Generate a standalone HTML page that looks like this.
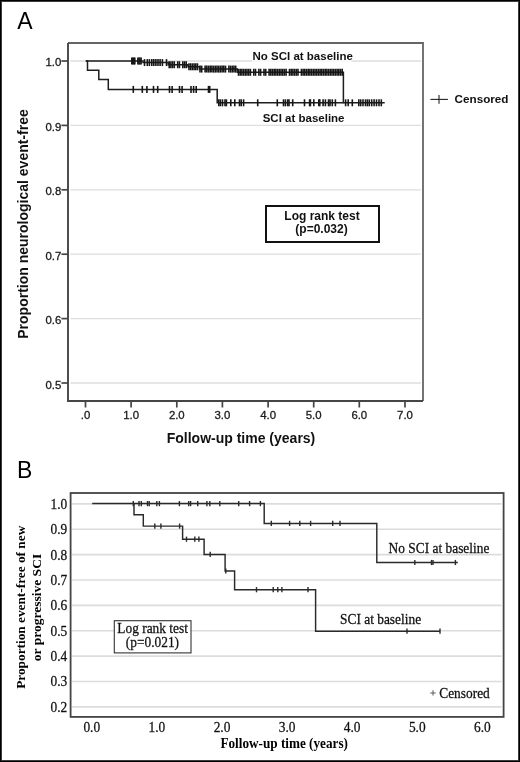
<!DOCTYPE html>
<html><head><meta charset="utf-8"><title>Kaplan-Meier curves</title>
<style>
html,body{margin:0;padding:0;background:#fff;}
body{width:520px;height:762px;overflow:hidden;}
svg{display:block;}
.sa{font-family:"Liberation Sans",Arial,sans-serif;font-size:11.4px;fill:#1a1a1a;stroke:#1a1a1a;stroke-width:0.3px;}
.sab{font-family:"Liberation Sans",Arial,sans-serif;font-size:11.5px;font-weight:bold;fill:#111;}
.sab2{font-family:"Liberation Sans",Arial,sans-serif;font-size:12px;font-weight:bold;fill:#111;}
.sat{font-family:"Liberation Sans",Arial,sans-serif;font-size:14px;font-weight:bold;fill:#111;}
.lab{font-family:"Liberation Sans",Arial,sans-serif;font-size:23px;fill:#000;}
.sb{font-family:"Liberation Serif","Times New Roman",serif;font-size:13.4px;fill:#111;stroke:#111;stroke-width:0.25px;}
.sbs{font-family:"Liberation Serif","Times New Roman",serif;font-size:10px;fill:#444;}
.sbtx{font-family:"Liberation Serif","Times New Roman",serif;font-size:13.2px;font-weight:bold;fill:#000;}
.sbt{font-family:"Liberation Serif","Times New Roman",serif;font-size:13.5px;font-weight:bold;fill:#000;}
</style></head>
<body><svg width="520" height="762" viewBox="0 0 520 762">
<rect x="0" y="0" width="520" height="762" fill="#fff"/>
<rect x="1.5" y="1.5" width="517" height="759" fill="none" stroke="#3c3c3c" stroke-width="1"/>
<rect x="0.5" y="0.5" width="519" height="761" fill="none" stroke="#000" stroke-width="1"/>
<line x1="70.5" y1="61.0" x2="421" y2="61.0" stroke="#dedede" stroke-width="1.3"/>
<line x1="70.5" y1="125.4" x2="421" y2="125.4" stroke="#dedede" stroke-width="1.3"/>
<line x1="70.5" y1="189.8" x2="421" y2="189.8" stroke="#dedede" stroke-width="1.3"/>
<line x1="70.5" y1="254.2" x2="421" y2="254.2" stroke="#dedede" stroke-width="1.3"/>
<line x1="70.5" y1="318.6" x2="421" y2="318.6" stroke="#dedede" stroke-width="1.3"/>
<line x1="70.5" y1="383.0" x2="421" y2="383.0" stroke="#dedede" stroke-width="1.3"/>
<path d="M68,43 H423 V401" fill="none" stroke="#656565" stroke-width="1.8"/>
<path d="M68,43 V401 H423" fill="none" stroke="#464646" stroke-width="1.9"/>
<line x1="61.4" y1="61.0" x2="68" y2="61.0" stroke="#444444" stroke-width="1.7"/>
<text x="61.3" y="66.0" class="sa" text-anchor="end">1.0</text>
<line x1="61.4" y1="125.4" x2="68" y2="125.4" stroke="#444444" stroke-width="1.7"/>
<text x="61.3" y="130.5" class="sa" text-anchor="end">0.9</text>
<line x1="61.4" y1="189.8" x2="68" y2="189.8" stroke="#444444" stroke-width="1.7"/>
<text x="61.3" y="195.0" class="sa" text-anchor="end">0.8</text>
<line x1="61.4" y1="254.2" x2="68" y2="254.2" stroke="#444444" stroke-width="1.7"/>
<text x="61.3" y="259.6" class="sa" text-anchor="end">0.7</text>
<line x1="61.4" y1="318.6" x2="68" y2="318.6" stroke="#444444" stroke-width="1.7"/>
<text x="61.3" y="324.1" class="sa" text-anchor="end">0.6</text>
<line x1="61.4" y1="383.0" x2="68" y2="383.0" stroke="#444444" stroke-width="1.7"/>
<text x="61.3" y="388.6" class="sa" text-anchor="end">0.5</text>
<line x1="85.5" y1="401" x2="85.5" y2="407.5" stroke="#444444" stroke-width="1.7"/>
<text x="85.5" y="418.7" class="sa" text-anchor="middle">.0</text>
<line x1="131.1" y1="401" x2="131.1" y2="407.5" stroke="#444444" stroke-width="1.7"/>
<text x="131.1" y="418.7" class="sa" text-anchor="middle">1.0</text>
<line x1="176.8" y1="401" x2="176.8" y2="407.5" stroke="#444444" stroke-width="1.7"/>
<text x="176.8" y="418.7" class="sa" text-anchor="middle">2.0</text>
<line x1="222.4" y1="401" x2="222.4" y2="407.5" stroke="#444444" stroke-width="1.7"/>
<text x="222.4" y="418.7" class="sa" text-anchor="middle">3.0</text>
<line x1="268.1" y1="401" x2="268.1" y2="407.5" stroke="#444444" stroke-width="1.7"/>
<text x="268.1" y="418.7" class="sa" text-anchor="middle">4.0</text>
<line x1="313.7" y1="401" x2="313.7" y2="407.5" stroke="#444444" stroke-width="1.7"/>
<text x="313.7" y="418.7" class="sa" text-anchor="middle">5.0</text>
<line x1="359.3" y1="401" x2="359.3" y2="407.5" stroke="#444444" stroke-width="1.7"/>
<text x="359.3" y="418.7" class="sa" text-anchor="middle">6.0</text>
<line x1="405.0" y1="401" x2="405.0" y2="407.5" stroke="#444444" stroke-width="1.7"/>
<text x="405.0" y="418.7" class="sa" text-anchor="middle">7.0</text>
<polyline fill="none" stroke="#1e1e1e" stroke-width="1.5" points="85.8,61.0 143.0,61.0 143.0,62.6 168.2,62.6 168.2,64.7 188,64.7 188,66.8 199.6,66.8 199.6,69.1 237.3,69.1 237.3,72.3 343.4,72.3 343.4,102.8 384.7,102.8"/>
<polyline fill="none" stroke="#1e1e1e" stroke-width="1.5" points="85.8,61.0 87.5,61.0 87.5,70.2 98.8,70.2 98.8,79.5 108.3,79.5 108.3,89.4 217.2,89.4 217.2,102.8 343.4,102.8"/>
<line x1="133.3" y1="85.9" x2="133.3" y2="92.9" stroke="#161616" stroke-width="1.6"/>
<line x1="142.3" y1="85.9" x2="142.3" y2="92.9" stroke="#161616" stroke-width="1.6"/>
<line x1="146.9" y1="85.9" x2="146.9" y2="92.9" stroke="#161616" stroke-width="1.6"/>
<line x1="153.5" y1="85.9" x2="153.5" y2="92.9" stroke="#161616" stroke-width="1.6"/>
<line x1="157.7" y1="85.9" x2="157.7" y2="92.9" stroke="#161616" stroke-width="1.6"/>
<line x1="169.5" y1="85.9" x2="169.5" y2="92.9" stroke="#161616" stroke-width="1.6"/>
<line x1="172.1" y1="85.9" x2="172.1" y2="92.9" stroke="#161616" stroke-width="1.6"/>
<line x1="179.5" y1="85.9" x2="179.5" y2="92.9" stroke="#161616" stroke-width="1.6"/>
<line x1="182.1" y1="85.9" x2="182.1" y2="92.9" stroke="#161616" stroke-width="1.6"/>
<line x1="191.0" y1="85.9" x2="191.0" y2="92.9" stroke="#161616" stroke-width="1.6"/>
<line x1="193.6" y1="85.9" x2="193.6" y2="92.9" stroke="#161616" stroke-width="1.6"/>
<line x1="196.2" y1="85.9" x2="196.2" y2="92.9" stroke="#161616" stroke-width="1.6"/>
<line x1="208.5" y1="85.9" x2="208.5" y2="92.9" stroke="#161616" stroke-width="1.6"/>
<line x1="209.7" y1="85.9" x2="209.7" y2="92.9" stroke="#161616" stroke-width="1.6"/>
<line x1="218.8" y1="99.3" x2="218.8" y2="106.3" stroke="#161616" stroke-width="1.6"/>
<line x1="220.4" y1="99.3" x2="220.4" y2="106.3" stroke="#161616" stroke-width="1.6"/>
<line x1="222.5" y1="99.3" x2="222.5" y2="106.3" stroke="#161616" stroke-width="1.6"/>
<line x1="225.0" y1="99.3" x2="225.0" y2="106.3" stroke="#161616" stroke-width="1.6"/>
<line x1="226.4" y1="99.3" x2="226.4" y2="106.3" stroke="#161616" stroke-width="1.6"/>
<line x1="230.8" y1="99.3" x2="230.8" y2="106.3" stroke="#161616" stroke-width="1.6"/>
<line x1="234.8" y1="99.3" x2="234.8" y2="106.3" stroke="#161616" stroke-width="1.6"/>
<line x1="239.5" y1="99.3" x2="239.5" y2="106.3" stroke="#161616" stroke-width="1.6"/>
<line x1="241.2" y1="99.3" x2="241.2" y2="106.3" stroke="#161616" stroke-width="1.6"/>
<line x1="243.6" y1="99.3" x2="243.6" y2="106.3" stroke="#161616" stroke-width="1.6"/>
<line x1="257.7" y1="99.3" x2="257.7" y2="106.3" stroke="#161616" stroke-width="1.6"/>
<line x1="277.3" y1="99.3" x2="277.3" y2="106.3" stroke="#161616" stroke-width="1.6"/>
<line x1="283.5" y1="99.3" x2="283.5" y2="106.3" stroke="#161616" stroke-width="1.6"/>
<line x1="285.4" y1="99.3" x2="285.4" y2="106.3" stroke="#161616" stroke-width="1.6"/>
<line x1="287.7" y1="99.3" x2="287.7" y2="106.3" stroke="#161616" stroke-width="1.6"/>
<line x1="289.0" y1="99.3" x2="289.0" y2="106.3" stroke="#161616" stroke-width="1.6"/>
<line x1="292.7" y1="99.3" x2="292.7" y2="106.3" stroke="#161616" stroke-width="1.6"/>
<line x1="304.5" y1="99.3" x2="304.5" y2="106.3" stroke="#161616" stroke-width="1.6"/>
<line x1="309.6" y1="99.3" x2="309.6" y2="106.3" stroke="#161616" stroke-width="1.6"/>
<line x1="310.4" y1="99.3" x2="310.4" y2="106.3" stroke="#161616" stroke-width="1.6"/>
<line x1="313.8" y1="99.3" x2="313.8" y2="106.3" stroke="#161616" stroke-width="1.6"/>
<line x1="318.8" y1="99.3" x2="318.8" y2="106.3" stroke="#161616" stroke-width="1.6"/>
<line x1="319.8" y1="99.3" x2="319.8" y2="106.3" stroke="#161616" stroke-width="1.6"/>
<line x1="323.1" y1="99.3" x2="323.1" y2="106.3" stroke="#161616" stroke-width="1.6"/>
<line x1="325.4" y1="99.3" x2="325.4" y2="106.3" stroke="#161616" stroke-width="1.6"/>
<line x1="328.5" y1="99.3" x2="328.5" y2="106.3" stroke="#161616" stroke-width="1.6"/>
<line x1="330.0" y1="99.3" x2="330.0" y2="106.3" stroke="#161616" stroke-width="1.6"/>
<line x1="332.3" y1="99.3" x2="332.3" y2="106.3" stroke="#161616" stroke-width="1.6"/>
<line x1="335.4" y1="99.3" x2="335.4" y2="106.3" stroke="#161616" stroke-width="1.6"/>
<line x1="345.6" y1="99.3" x2="345.6" y2="106.3" stroke="#161616" stroke-width="1.6"/>
<line x1="348.2" y1="99.3" x2="348.2" y2="106.3" stroke="#161616" stroke-width="1.6"/>
<line x1="352.3" y1="99.3" x2="352.3" y2="106.3" stroke="#161616" stroke-width="1.6"/>
<line x1="358.8" y1="99.3" x2="358.8" y2="106.3" stroke="#161616" stroke-width="1.6"/>
<line x1="360.7" y1="99.3" x2="360.7" y2="106.3" stroke="#161616" stroke-width="1.6"/>
<line x1="363.0" y1="99.3" x2="363.0" y2="106.3" stroke="#161616" stroke-width="1.6"/>
<line x1="365.5" y1="99.3" x2="365.5" y2="106.3" stroke="#161616" stroke-width="1.6"/>
<line x1="367.4" y1="99.3" x2="367.4" y2="106.3" stroke="#161616" stroke-width="1.6"/>
<line x1="369.3" y1="99.3" x2="369.3" y2="106.3" stroke="#161616" stroke-width="1.6"/>
<line x1="371.7" y1="99.3" x2="371.7" y2="106.3" stroke="#161616" stroke-width="1.6"/>
<line x1="374.1" y1="99.3" x2="374.1" y2="106.3" stroke="#161616" stroke-width="1.6"/>
<line x1="376.5" y1="99.3" x2="376.5" y2="106.3" stroke="#161616" stroke-width="1.6"/>
<line x1="379.0" y1="99.3" x2="379.0" y2="106.3" stroke="#161616" stroke-width="1.6"/>
<line x1="381.3" y1="99.3" x2="381.3" y2="106.3" stroke="#161616" stroke-width="1.6"/>
<line x1="131.8" y1="57.5" x2="131.8" y2="64.5" stroke="#161616" stroke-width="1.6"/>
<line x1="132.8" y1="57.5" x2="132.8" y2="64.5" stroke="#161616" stroke-width="1.6"/>
<line x1="133.8" y1="57.5" x2="133.8" y2="64.5" stroke="#161616" stroke-width="1.6"/>
<line x1="134.8" y1="57.5" x2="134.8" y2="64.5" stroke="#161616" stroke-width="1.6"/>
<line x1="137.9" y1="57.5" x2="137.9" y2="64.5" stroke="#161616" stroke-width="1.6"/>
<line x1="139.0" y1="57.5" x2="139.0" y2="64.5" stroke="#161616" stroke-width="1.6"/>
<line x1="140.0" y1="57.5" x2="140.0" y2="64.5" stroke="#161616" stroke-width="1.6"/>
<line x1="141.1" y1="57.5" x2="141.1" y2="64.5" stroke="#161616" stroke-width="1.6"/>
<line x1="144.5" y1="59.1" x2="144.5" y2="66.1" stroke="#161616" stroke-width="1.6"/>
<line x1="147.3" y1="59.1" x2="147.3" y2="66.1" stroke="#161616" stroke-width="1.6"/>
<line x1="149.4" y1="59.1" x2="149.4" y2="66.1" stroke="#161616" stroke-width="1.6"/>
<line x1="151.8" y1="59.1" x2="151.8" y2="66.1" stroke="#161616" stroke-width="1.6"/>
<line x1="153.8" y1="59.1" x2="153.8" y2="66.1" stroke="#161616" stroke-width="1.6"/>
<line x1="155.9" y1="59.1" x2="155.9" y2="66.1" stroke="#161616" stroke-width="1.6"/>
<line x1="158.0" y1="59.1" x2="158.0" y2="66.1" stroke="#161616" stroke-width="1.6"/>
<line x1="160.1" y1="59.1" x2="160.1" y2="66.1" stroke="#161616" stroke-width="1.6"/>
<line x1="162.4" y1="59.1" x2="162.4" y2="66.1" stroke="#161616" stroke-width="1.6"/>
<line x1="166.5" y1="59.1" x2="166.5" y2="66.1" stroke="#161616" stroke-width="1.6"/>
<line x1="169.2" y1="61.2" x2="169.2" y2="68.2" stroke="#161616" stroke-width="1.6"/>
<line x1="170.9" y1="61.2" x2="170.9" y2="68.2" stroke="#161616" stroke-width="1.6"/>
<line x1="172.6" y1="61.2" x2="172.6" y2="68.2" stroke="#161616" stroke-width="1.6"/>
<line x1="174.3" y1="61.2" x2="174.3" y2="68.2" stroke="#161616" stroke-width="1.6"/>
<line x1="177.7" y1="61.2" x2="177.7" y2="68.2" stroke="#161616" stroke-width="1.6"/>
<line x1="179.4" y1="61.2" x2="179.4" y2="68.2" stroke="#161616" stroke-width="1.6"/>
<line x1="182.8" y1="61.2" x2="182.8" y2="68.2" stroke="#161616" stroke-width="1.6"/>
<line x1="184.5" y1="61.2" x2="184.5" y2="68.2" stroke="#161616" stroke-width="1.6"/>
<line x1="186.2" y1="61.2" x2="186.2" y2="68.2" stroke="#161616" stroke-width="1.6"/>
<line x1="189.0" y1="63.3" x2="189.0" y2="70.3" stroke="#161616" stroke-width="1.6"/>
<line x1="190.7" y1="63.3" x2="190.7" y2="70.3" stroke="#161616" stroke-width="1.6"/>
<line x1="192.4" y1="63.3" x2="192.4" y2="70.3" stroke="#161616" stroke-width="1.6"/>
<line x1="194.1" y1="63.3" x2="194.1" y2="70.3" stroke="#161616" stroke-width="1.6"/>
<line x1="195.8" y1="63.3" x2="195.8" y2="70.3" stroke="#161616" stroke-width="1.6"/>
<line x1="197.5" y1="63.3" x2="197.5" y2="70.3" stroke="#161616" stroke-width="1.6"/>
<line x1="200.0" y1="65.6" x2="200.0" y2="72.6" stroke="#161616" stroke-width="1.6"/>
<line x1="201.7" y1="65.6" x2="201.7" y2="72.6" stroke="#161616" stroke-width="1.6"/>
<line x1="205.1" y1="65.6" x2="205.1" y2="72.6" stroke="#161616" stroke-width="1.6"/>
<line x1="206.8" y1="65.6" x2="206.8" y2="72.6" stroke="#161616" stroke-width="1.6"/>
<line x1="208.5" y1="65.6" x2="208.5" y2="72.6" stroke="#161616" stroke-width="1.6"/>
<line x1="210.2" y1="65.6" x2="210.2" y2="72.6" stroke="#161616" stroke-width="1.6"/>
<line x1="211.9" y1="65.6" x2="211.9" y2="72.6" stroke="#161616" stroke-width="1.6"/>
<line x1="213.6" y1="65.6" x2="213.6" y2="72.6" stroke="#161616" stroke-width="1.6"/>
<line x1="215.3" y1="65.6" x2="215.3" y2="72.6" stroke="#161616" stroke-width="1.6"/>
<line x1="217.0" y1="65.6" x2="217.0" y2="72.6" stroke="#161616" stroke-width="1.6"/>
<line x1="218.7" y1="65.6" x2="218.7" y2="72.6" stroke="#161616" stroke-width="1.6"/>
<line x1="220.4" y1="65.6" x2="220.4" y2="72.6" stroke="#161616" stroke-width="1.6"/>
<line x1="222.1" y1="65.6" x2="222.1" y2="72.6" stroke="#161616" stroke-width="1.6"/>
<line x1="223.8" y1="65.6" x2="223.8" y2="72.6" stroke="#161616" stroke-width="1.6"/>
<line x1="225.5" y1="65.6" x2="225.5" y2="72.6" stroke="#161616" stroke-width="1.6"/>
<line x1="228.9" y1="65.6" x2="228.9" y2="72.6" stroke="#161616" stroke-width="1.6"/>
<line x1="230.6" y1="65.6" x2="230.6" y2="72.6" stroke="#161616" stroke-width="1.6"/>
<line x1="232.3" y1="65.6" x2="232.3" y2="72.6" stroke="#161616" stroke-width="1.6"/>
<line x1="234.0" y1="65.6" x2="234.0" y2="72.6" stroke="#161616" stroke-width="1.6"/>
<line x1="235.7" y1="65.6" x2="235.7" y2="72.6" stroke="#161616" stroke-width="1.6"/>
<line x1="238.5" y1="68.8" x2="238.5" y2="75.8" stroke="#161616" stroke-width="1.6"/>
<line x1="240.2" y1="68.8" x2="240.2" y2="75.8" stroke="#161616" stroke-width="1.6"/>
<line x1="241.9" y1="68.8" x2="241.9" y2="75.8" stroke="#161616" stroke-width="1.6"/>
<line x1="243.6" y1="68.8" x2="243.6" y2="75.8" stroke="#161616" stroke-width="1.6"/>
<line x1="245.3" y1="68.8" x2="245.3" y2="75.8" stroke="#161616" stroke-width="1.6"/>
<line x1="247.0" y1="68.8" x2="247.0" y2="75.8" stroke="#161616" stroke-width="1.6"/>
<line x1="248.7" y1="68.8" x2="248.7" y2="75.8" stroke="#161616" stroke-width="1.6"/>
<line x1="250.4" y1="68.8" x2="250.4" y2="75.8" stroke="#161616" stroke-width="1.6"/>
<line x1="253.8" y1="68.8" x2="253.8" y2="75.8" stroke="#161616" stroke-width="1.6"/>
<line x1="255.5" y1="68.8" x2="255.5" y2="75.8" stroke="#161616" stroke-width="1.6"/>
<line x1="258.9" y1="68.8" x2="258.9" y2="75.8" stroke="#161616" stroke-width="1.6"/>
<line x1="260.6" y1="68.8" x2="260.6" y2="75.8" stroke="#161616" stroke-width="1.6"/>
<line x1="264.0" y1="68.8" x2="264.0" y2="75.8" stroke="#161616" stroke-width="1.6"/>
<line x1="265.7" y1="68.8" x2="265.7" y2="75.8" stroke="#161616" stroke-width="1.6"/>
<line x1="269.1" y1="68.8" x2="269.1" y2="75.8" stroke="#161616" stroke-width="1.6"/>
<line x1="270.8" y1="68.8" x2="270.8" y2="75.8" stroke="#161616" stroke-width="1.6"/>
<line x1="272.5" y1="68.8" x2="272.5" y2="75.8" stroke="#161616" stroke-width="1.6"/>
<line x1="274.2" y1="68.8" x2="274.2" y2="75.8" stroke="#161616" stroke-width="1.6"/>
<line x1="275.9" y1="68.8" x2="275.9" y2="75.8" stroke="#161616" stroke-width="1.6"/>
<line x1="277.6" y1="68.8" x2="277.6" y2="75.8" stroke="#161616" stroke-width="1.6"/>
<line x1="279.3" y1="68.8" x2="279.3" y2="75.8" stroke="#161616" stroke-width="1.6"/>
<line x1="281.0" y1="68.8" x2="281.0" y2="75.8" stroke="#161616" stroke-width="1.6"/>
<line x1="282.7" y1="68.8" x2="282.7" y2="75.8" stroke="#161616" stroke-width="1.6"/>
<line x1="284.4" y1="68.8" x2="284.4" y2="75.8" stroke="#161616" stroke-width="1.6"/>
<line x1="286.1" y1="68.8" x2="286.1" y2="75.8" stroke="#161616" stroke-width="1.6"/>
<line x1="289.5" y1="68.8" x2="289.5" y2="75.8" stroke="#161616" stroke-width="1.6"/>
<line x1="291.2" y1="68.8" x2="291.2" y2="75.8" stroke="#161616" stroke-width="1.6"/>
<line x1="292.9" y1="68.8" x2="292.9" y2="75.8" stroke="#161616" stroke-width="1.6"/>
<line x1="294.6" y1="68.8" x2="294.6" y2="75.8" stroke="#161616" stroke-width="1.6"/>
<line x1="296.3" y1="68.8" x2="296.3" y2="75.8" stroke="#161616" stroke-width="1.6"/>
<line x1="298.0" y1="68.8" x2="298.0" y2="75.8" stroke="#161616" stroke-width="1.6"/>
<line x1="301.4" y1="68.8" x2="301.4" y2="75.8" stroke="#161616" stroke-width="1.6"/>
<line x1="303.1" y1="68.8" x2="303.1" y2="75.8" stroke="#161616" stroke-width="1.6"/>
<line x1="304.8" y1="68.8" x2="304.8" y2="75.8" stroke="#161616" stroke-width="1.6"/>
<line x1="306.5" y1="68.8" x2="306.5" y2="75.8" stroke="#161616" stroke-width="1.6"/>
<line x1="308.2" y1="68.8" x2="308.2" y2="75.8" stroke="#161616" stroke-width="1.6"/>
<line x1="309.9" y1="68.8" x2="309.9" y2="75.8" stroke="#161616" stroke-width="1.6"/>
<line x1="311.6" y1="68.8" x2="311.6" y2="75.8" stroke="#161616" stroke-width="1.6"/>
<line x1="313.3" y1="68.8" x2="313.3" y2="75.8" stroke="#161616" stroke-width="1.6"/>
<line x1="315.0" y1="68.8" x2="315.0" y2="75.8" stroke="#161616" stroke-width="1.6"/>
<line x1="316.7" y1="68.8" x2="316.7" y2="75.8" stroke="#161616" stroke-width="1.6"/>
<line x1="318.4" y1="68.8" x2="318.4" y2="75.8" stroke="#161616" stroke-width="1.6"/>
<line x1="320.1" y1="68.8" x2="320.1" y2="75.8" stroke="#161616" stroke-width="1.6"/>
<line x1="321.8" y1="68.8" x2="321.8" y2="75.8" stroke="#161616" stroke-width="1.6"/>
<line x1="323.5" y1="68.8" x2="323.5" y2="75.8" stroke="#161616" stroke-width="1.6"/>
<line x1="325.2" y1="68.8" x2="325.2" y2="75.8" stroke="#161616" stroke-width="1.6"/>
<line x1="326.9" y1="68.8" x2="326.9" y2="75.8" stroke="#161616" stroke-width="1.6"/>
<line x1="328.6" y1="68.8" x2="328.6" y2="75.8" stroke="#161616" stroke-width="1.6"/>
<line x1="330.3" y1="68.8" x2="330.3" y2="75.8" stroke="#161616" stroke-width="1.6"/>
<line x1="332.0" y1="68.8" x2="332.0" y2="75.8" stroke="#161616" stroke-width="1.6"/>
<line x1="333.7" y1="68.8" x2="333.7" y2="75.8" stroke="#161616" stroke-width="1.6"/>
<line x1="335.4" y1="68.8" x2="335.4" y2="75.8" stroke="#161616" stroke-width="1.6"/>
<line x1="337.1" y1="68.8" x2="337.1" y2="75.8" stroke="#161616" stroke-width="1.6"/>
<line x1="338.8" y1="68.8" x2="338.8" y2="75.8" stroke="#161616" stroke-width="1.6"/>
<line x1="340.5" y1="68.8" x2="340.5" y2="75.8" stroke="#161616" stroke-width="1.6"/>
<line x1="342.2" y1="68.8" x2="342.2" y2="75.8" stroke="#161616" stroke-width="1.6"/>
<rect x="252" y="59.6" width="99.5" height="2.8" fill="#fff" fill-opacity="0.7"/>
<text x="252.5" y="59.5" class="sab">No SCI at baseline</text>
<text x="262.7" y="121.9" class="sab">SCI at baseline</text>
<rect x="266" y="206" width="113" height="36" fill="#fff" stroke="#111" stroke-width="2"/>
<text x="322" y="219.9" class="sab2" text-anchor="middle">Log rank test</text>
<text x="321.5" y="233.2" class="sab2" text-anchor="middle">(p=0.032)</text>
<line x1="430.4" y1="99.4" x2="447.9" y2="99.4" stroke="#222" stroke-width="1.1"/>
<line x1="439" y1="95" x2="439" y2="103.8" stroke="#222" stroke-width="1.1"/>
<text x="454.6" y="103" class="sab2" style="font-size:11.7px">Censored</text>
<text x="241" y="443" class="sat" text-anchor="middle">Follow-up time (years)</text>
<text transform="translate(27.8,224) rotate(-90)" x="0" y="0" class="sat" text-anchor="middle">Proportion neurological event-free</text>
<text x="17.3" y="28.6" class="lab">A</text>
<text x="17" y="477.9" class="lab">B</text>
<line x1="72.1" y1="503.85" x2="501.6" y2="503.85" stroke="#dcdcdc" stroke-width="1.7"/>
<text transform="translate(67.20,508.75) scale(1,1.12)" class="sb" text-anchor="end">1.0</text>
<line x1="72.1" y1="529.23" x2="501.6" y2="529.23" stroke="#dcdcdc" stroke-width="1.7"/>
<text transform="translate(67.20,534.13) scale(1,1.12)" class="sb" text-anchor="end">0.9</text>
<line x1="72.1" y1="554.61" x2="501.6" y2="554.61" stroke="#dcdcdc" stroke-width="1.7"/>
<text transform="translate(67.20,559.51) scale(1,1.12)" class="sb" text-anchor="end">0.8</text>
<line x1="72.1" y1="579.99" x2="501.6" y2="579.99" stroke="#dcdcdc" stroke-width="1.7"/>
<text transform="translate(67.20,584.89) scale(1,1.12)" class="sb" text-anchor="end">0.7</text>
<line x1="72.1" y1="605.37" x2="501.6" y2="605.37" stroke="#dcdcdc" stroke-width="1.7"/>
<text transform="translate(67.20,610.27) scale(1,1.12)" class="sb" text-anchor="end">0.6</text>
<line x1="72.1" y1="630.75" x2="501.6" y2="630.75" stroke="#dcdcdc" stroke-width="1.7"/>
<text transform="translate(67.20,635.65) scale(1,1.12)" class="sb" text-anchor="end">0.5</text>
<line x1="72.1" y1="656.13" x2="501.6" y2="656.13" stroke="#dcdcdc" stroke-width="1.7"/>
<text transform="translate(67.20,661.03) scale(1,1.12)" class="sb" text-anchor="end">0.4</text>
<line x1="72.1" y1="681.51" x2="501.6" y2="681.51" stroke="#dcdcdc" stroke-width="1.7"/>
<text transform="translate(67.20,686.41) scale(1,1.12)" class="sb" text-anchor="end">0.3</text>
<line x1="72.1" y1="706.89" x2="501.6" y2="706.89" stroke="#dcdcdc" stroke-width="1.7"/>
<text transform="translate(67.20,711.79) scale(1,1.12)" class="sb" text-anchor="end">0.2</text>
<rect x="70.6" y="493" width="433.0" height="223.89999999999998" fill="none" stroke="#444" stroke-width="1.8"/>
<text transform="translate(91.80,732.10) scale(1,1.12)" class="sb" text-anchor="middle">0.0</text>
<text transform="translate(156.90,732.10) scale(1,1.12)" class="sb" text-anchor="middle">1.0</text>
<text transform="translate(222.00,732.10) scale(1,1.12)" class="sb" text-anchor="middle">2.0</text>
<text transform="translate(287.10,732.10) scale(1,1.12)" class="sb" text-anchor="middle">3.0</text>
<text transform="translate(352.20,732.10) scale(1,1.12)" class="sb" text-anchor="middle">4.0</text>
<text transform="translate(417.30,732.10) scale(1,1.12)" class="sb" text-anchor="middle">5.0</text>
<text transform="translate(482.40,732.10) scale(1,1.12)" class="sb" text-anchor="middle">6.0</text>
<g transform="translate(0,0.2)">
<polyline fill="none" stroke="#2a2a2a" stroke-width="1.45" points="92.2,503.4 264.2,503.4 264.2,523.2 376.8,523.2 376.8,562.3 457.8,562.3"/>
<polyline fill="none" stroke="#2a2a2a" stroke-width="1.45" points="134.0,503.4 134.0,514.6 143.3,514.6 143.3,525.9 182.6,525.9 182.6,539 204.1,539 204.1,554.2 225.1,554.2 225.1,570.8 234.6,570.8 234.6,589.5 315.6,589.5 315.6,631.0 440,631.0"/>
<line x1="133.3" y1="500.8" x2="133.3" y2="506.0" stroke="#2a2a2a" stroke-width="1.4"/>
<line x1="139.0" y1="500.8" x2="139.0" y2="506.0" stroke="#2a2a2a" stroke-width="1.4"/>
<line x1="141.3" y1="500.8" x2="141.3" y2="506.0" stroke="#2a2a2a" stroke-width="1.4"/>
<line x1="147.5" y1="500.8" x2="147.5" y2="506.0" stroke="#2a2a2a" stroke-width="1.4"/>
<line x1="149.2" y1="500.8" x2="149.2" y2="506.0" stroke="#2a2a2a" stroke-width="1.4"/>
<line x1="156.8" y1="500.8" x2="156.8" y2="506.0" stroke="#2a2a2a" stroke-width="1.4"/>
<line x1="159.4" y1="500.8" x2="159.4" y2="506.0" stroke="#2a2a2a" stroke-width="1.4"/>
<line x1="179.4" y1="500.8" x2="179.4" y2="506.0" stroke="#2a2a2a" stroke-width="1.4"/>
<line x1="188.7" y1="500.8" x2="188.7" y2="506.0" stroke="#2a2a2a" stroke-width="1.4"/>
<line x1="190.6" y1="500.8" x2="190.6" y2="506.0" stroke="#2a2a2a" stroke-width="1.4"/>
<line x1="197.7" y1="500.8" x2="197.7" y2="506.0" stroke="#2a2a2a" stroke-width="1.4"/>
<line x1="206.9" y1="500.8" x2="206.9" y2="506.0" stroke="#2a2a2a" stroke-width="1.4"/>
<line x1="209.8" y1="500.8" x2="209.8" y2="506.0" stroke="#2a2a2a" stroke-width="1.4"/>
<line x1="219.8" y1="500.8" x2="219.8" y2="506.0" stroke="#2a2a2a" stroke-width="1.4"/>
<line x1="238.7" y1="500.8" x2="238.7" y2="506.0" stroke="#2a2a2a" stroke-width="1.4"/>
<line x1="249.6" y1="500.8" x2="249.6" y2="506.0" stroke="#2a2a2a" stroke-width="1.4"/>
<line x1="260.4" y1="500.8" x2="260.4" y2="506.0" stroke="#2a2a2a" stroke-width="1.4"/>
<line x1="271.3" y1="520.6" x2="271.3" y2="525.8" stroke="#2a2a2a" stroke-width="1.4"/>
<line x1="289.6" y1="520.6" x2="289.6" y2="525.8" stroke="#2a2a2a" stroke-width="1.4"/>
<line x1="299.8" y1="520.6" x2="299.8" y2="525.8" stroke="#2a2a2a" stroke-width="1.4"/>
<line x1="310.6" y1="520.6" x2="310.6" y2="525.8" stroke="#2a2a2a" stroke-width="1.4"/>
<line x1="332.7" y1="520.6" x2="332.7" y2="525.8" stroke="#2a2a2a" stroke-width="1.4"/>
<line x1="340.0" y1="520.6" x2="340.0" y2="525.8" stroke="#2a2a2a" stroke-width="1.4"/>
<line x1="414.8" y1="559.7" x2="414.8" y2="564.9" stroke="#2a2a2a" stroke-width="1.4"/>
<line x1="431.5" y1="559.7" x2="431.5" y2="564.9" stroke="#2a2a2a" stroke-width="1.4"/>
<line x1="433.0" y1="559.7" x2="433.0" y2="564.9" stroke="#2a2a2a" stroke-width="1.4"/>
<line x1="455.4" y1="559.7" x2="455.4" y2="564.9" stroke="#2a2a2a" stroke-width="1.4"/>
<line x1="154.8" y1="523.3" x2="154.8" y2="528.5" stroke="#2a2a2a" stroke-width="1.4"/>
<line x1="160.9" y1="523.3" x2="160.9" y2="528.5" stroke="#2a2a2a" stroke-width="1.4"/>
<line x1="179.6" y1="523.3" x2="179.6" y2="528.5" stroke="#2a2a2a" stroke-width="1.4"/>
<line x1="186.5" y1="536.4" x2="186.5" y2="541.6" stroke="#2a2a2a" stroke-width="1.4"/>
<line x1="194.8" y1="536.4" x2="194.8" y2="541.6" stroke="#2a2a2a" stroke-width="1.4"/>
<line x1="198.9" y1="536.4" x2="198.9" y2="541.6" stroke="#2a2a2a" stroke-width="1.4"/>
<line x1="210.2" y1="551.6" x2="210.2" y2="556.8" stroke="#2a2a2a" stroke-width="1.4"/>
<line x1="225.8" y1="568.2" x2="225.8" y2="573.4" stroke="#2a2a2a" stroke-width="1.4"/>
<line x1="256.5" y1="586.9" x2="256.5" y2="592.1" stroke="#2a2a2a" stroke-width="1.4"/>
<line x1="273.2" y1="586.9" x2="273.2" y2="592.1" stroke="#2a2a2a" stroke-width="1.4"/>
<line x1="277.8" y1="586.9" x2="277.8" y2="592.1" stroke="#2a2a2a" stroke-width="1.4"/>
<line x1="281.9" y1="586.9" x2="281.9" y2="592.1" stroke="#2a2a2a" stroke-width="1.4"/>
<line x1="308.0" y1="586.9" x2="308.0" y2="592.1" stroke="#2a2a2a" stroke-width="1.4"/>
<line x1="407.0" y1="628.4" x2="407.0" y2="633.6" stroke="#2a2a2a" stroke-width="1.4"/>
<line x1="440.0" y1="628.4" x2="440.0" y2="633.6" stroke="#2a2a2a" stroke-width="1.4"/>
</g>
<text transform="translate(388.60,552.60) scale(1,1.12)" class="sb">No SCI at baseline</text>
<text transform="translate(340.00,623.80) scale(1,1.12)" class="sb">SCI at baseline</text>
<rect x="114.3" y="620.7" width="76.7" height="32.2" fill="#fff" stroke="#333" stroke-width="1.1"/>
<text transform="translate(152.60,632.90) scale(1,1.12)" class="sb" text-anchor="middle">Log rank test</text>
<text transform="translate(152.40,647.40) scale(1,1.12)" class="sb" text-anchor="middle">(p=0.021)</text>
<line x1="430.3" y1="693" x2="435.7" y2="693" stroke="#666" stroke-width="1.1"/>
<line x1="433" y1="690.3" x2="433" y2="695.6" stroke="#666" stroke-width="1.1"/>
<text transform="translate(439.20,697.60) scale(1,1.12)" class="sb">Censored</text>
<text transform="translate(284.20,747.70) scale(1,1.12)" class="sbtx" text-anchor="middle">Follow-up time (years)</text>
<text transform="translate(24.8,607.3) rotate(-90)" class="sbt" style="font-size:13.3px" text-anchor="middle">Proportion event-free of new</text>
<text transform="translate(40.8,607.5) rotate(-90)" class="sbt" text-anchor="middle">or progressive SCI</text>
</svg></body></html>
